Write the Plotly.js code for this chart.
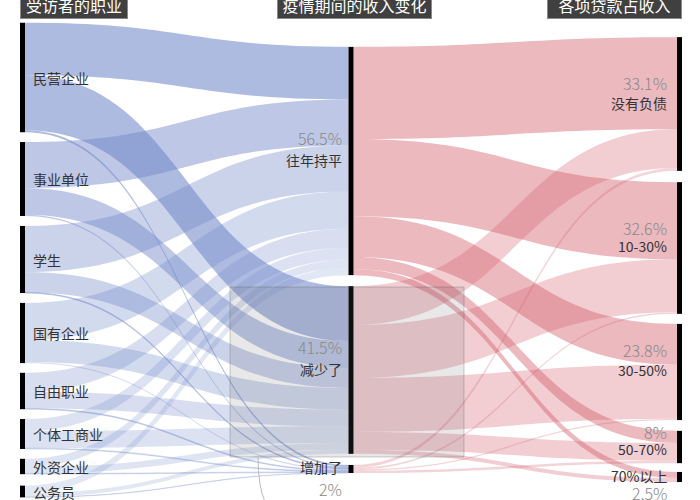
<!DOCTYPE html>
<html>
<head>
<meta charset="utf-8">
<script src="https://cdn.plot.ly/plotly-3.0.1.min.js"></script>
<style>html,body{margin:0;padding:0;background:#fff;}#chart{width:700px;height:500px;}</style>
</head>
<body>
<div id="chart"></div>
<script>
// ---------- data ----------
const occupations = ['民营企业','事业单位','学生','国有企业','自由职业','个体工商业','外资企业','公务员'];
const incomeChanges = ['往年持平','减少了','增加了'];
const incomeShares = [56.5, 41.5, 2];
const loanRatios = ['没有负债','10-30%','30-50%','50-70%','70%以上'];
const loanShares = [33.1, 32.6, 23.8, 8, 2.5];
// occupation -> income change (percent of respondents)
const flowSame = [13.0, 11.4, 11.4, 9.2, 4.7, 3.0, 2.0, 1.8];
const flowDown = [13.6, 6.6, 5.0, 5.4, 4.1, 4.2, 1.6, 1.0];
const flowUp   = [0.5, 0.3, 0.2, 0.3, 0.2, 0.2, 0.2, 0.1];
// income change -> loan ratio
const loanFromSame = [22.8, 19.1, 10.1, 3.0, 1.5];
const loanFromDown = [9.6, 13.1, 13.4, 4.4, 1.0];
const loanFromUp   = [0.7, 0.4, 0.3, 0.6, 0];
const headers = ['受访者的职业','疫情期间的收入变化','各项贷款占收入'];

// ---------- layout geometry ----------
const M = {l: 20, r: 18, t: 23, b: 3};
const PW = 700 - M.l - M.r, PH = 500 - M.t - M.b;
const px2x = x => (x - M.l) / PW;
const px2y = y => 1 - (y - M.t) / PH;
const leftCenters = [77.5, 179, 259.5, 333, 391, 434, 466.5, 491.5];
const midCenters = [161, 370, 469];
const rightCenters = [104, 248, 372, 447, 477];
const thick = 5;

const labels = [], nx = [], ny = [];
occupations.forEach((o, i) => { labels.push(''); nx.push(thick / 2 / PW); ny.push((leftCenters[i] - M.t) / PH); });
incomeChanges.forEach((o, i) => { labels.push(''); nx.push(0.5); ny.push((midCenters[i] - M.t) / PH); });
loanRatios.forEach((o, i) => { labels.push(''); nx.push(1 - thick / 2 / PW); ny.push((rightCenters[i] - M.t) / PH); });

const nO = occupations.length, nI = incomeChanges.length;
const src = [], tgt = [], val = [], col = [];
const occAlpha = [0.56, 0.45, 0.36, 0.31, 0.27, 0.24, 0.22, 0.2];
const midAlpha = [0.42, 0.29, 0.25];
[flowSame, flowDown, flowUp].forEach((arr, j) => {
  arr.forEach((v, i) => {
    if (v > 0) { src.push(i); tgt.push(nO + j); val.push(v); col.push('rgba(110,134,200,' + occAlpha[i] + ')'); }
  });
});
[loanFromSame, loanFromDown, loanFromUp].forEach((arr, j) => {
  arr.forEach((v, k) => {
    if (v > 0) { src.push(nO + j); tgt.push(nO + nI + k); val.push(v); col.push('rgba(209,87,102,' + midAlpha[j] + ')'); }
  });
});

const fam = '"Noto Sans CJK SC", "Noto Sans", sans-serif';
const ann = [];
// left labels
occupations.forEach((o, i) => ann.push({xref:'paper', yref:'paper', x: px2x(31), y: px2y(leftCenters[i]), xanchor:'left', yanchor:'middle', text:o, showarrow:false, font:{family:fam, size:14, color:'#333'}}));
// middle labels
const midNameOff = [-1, -1, -2], midPctOff = [-23, -23, 20];
incomeChanges.forEach((o, i) => {
  ann.push({xref:'paper', yref:'paper', x: px2x(344), y: px2y(midCenters[i] + midNameOff[i]), xanchor:'right', yanchor:'middle', text:o, showarrow:false, font:{family:fam, size:14, color:'#333'}});
  ann.push({xref:'paper', yref:'paper', x: px2x(344), y: px2y(midCenters[i] + midPctOff[i]), xanchor:'right', yanchor:'middle', text:incomeShares[i] + '%', showarrow:false, font:{family:fam, size:16, color:'#888', weight:300}});
});
// right labels
const rNameOff = [-1, -2, -2, 2, -1], rPctOff = [-21, -20, -22, -15, 16];
loanRatios.forEach((o, i) => {
  ann.push({xref:'paper', yref:'paper', x: px2x(669), y: px2y(rightCenters[i] + rNameOff[i]), xanchor:'right', yanchor:'middle', text:o, showarrow:false, font:{family:fam, size:14, color:'#333'}});
  ann.push({xref:'paper', yref:'paper', x: px2x(669), y: px2y(rightCenters[i] + rPctOff[i]), xanchor:'right', yanchor:'middle', text:loanShares[i] + '%', showarrow:false, font:{family:fam, size:16, color:'#888', weight:300}});
});
// headers
const hdrX = [74, 354.5, 614.5], hdrW = [108, 155, 135];
headers.forEach((h, i) => ann.push({xref:'paper', yref:'paper', x: px2x(hdrX[i]), y: px2y(19), xanchor:'center', yanchor:'bottom', width: hdrW[i] - 2, height: 26, borderpad:0, text:h, showarrow:false, bgcolor:'#404040', bordercolor:'#8a8a8a', borderwidth:1, font:{family:fam, size:16, color:'#fff'}}));

const shapes = [
  {type:'rect', xref:'paper', yref:'paper', x0:px2x(230), x1:px2x(464), y0:px2y(457), y1:px2y(287), fillcolor:'rgba(100,100,110,0.15)', line:{color:'rgba(90,90,90,0.3)', width:1}, layer:'above'},
  {type:'path', xref:'paper', yref:'paper', path:'M ' + px2x(258) + ' ' + px2y(457) + ' Q ' + px2x(258) + ' ' + px2y(486) + ' ' + px2x(265) + ' ' + px2y(502), line:{color:'#bbb', width:1}, layer:'above'}
];

const trace = {
  type: 'sankey',
  arrangement: 'fixed',
  hoverinfo: 'skip',
  node: {label: labels, x: nx, y: ny, pad: 10, thickness: thick, color: '#000', line: {width: 0}, hoverinfo: 'skip'},
  link: {source: src, target: tgt, value: val, color: col, hoverinfo: 'skip'},
  textfont: {size: 1, color: 'rgba(0,0,0,0)'}
};

Plotly.newPlot('chart', [trace], {
  width: 700, height: 500, margin: M, paper_bgcolor: '#fff',
  annotations: ann, shapes: shapes, font: {family: fam}
}, {displayModeBar: false, staticPlot: true});
</script>
</body>
</html>
